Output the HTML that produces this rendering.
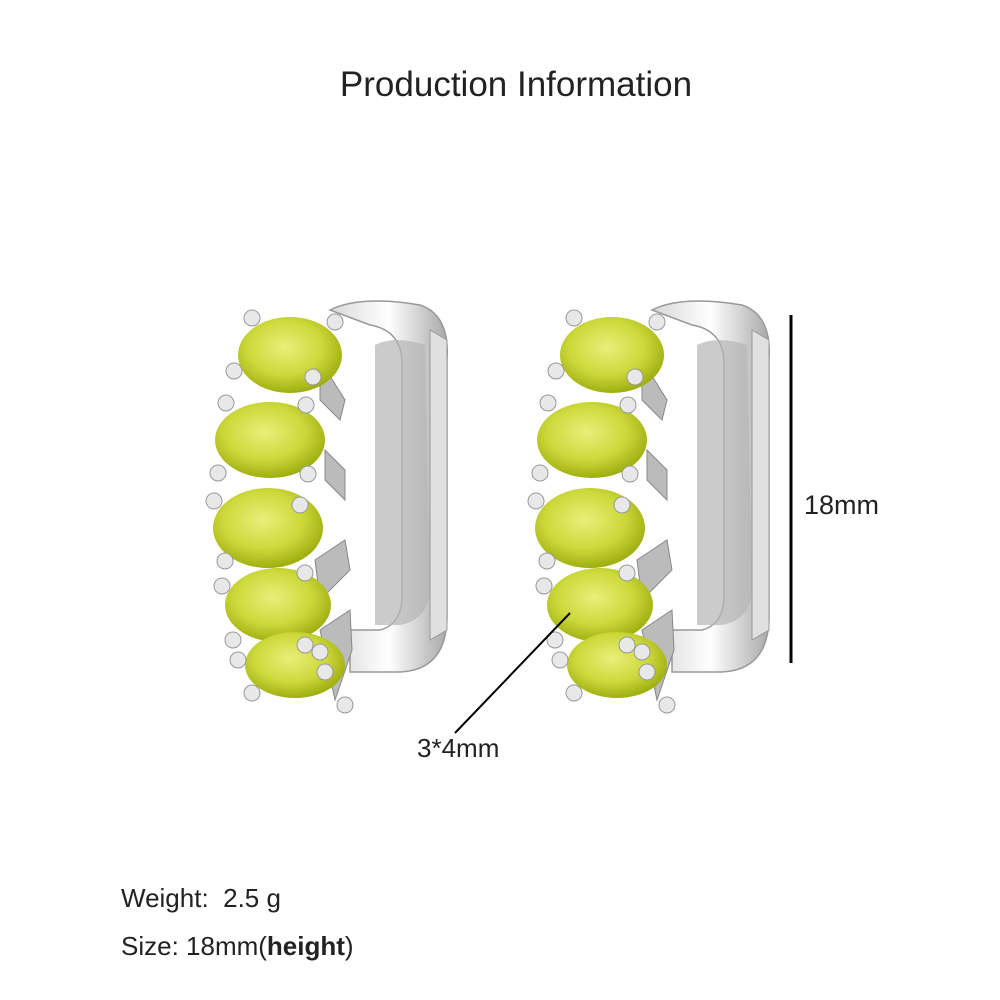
<!DOCTYPE html>
<html><head><style>
html,body{margin:0;padding:0;background:#fff;}
.w{position:relative;width:1000px;height:1000px;overflow:hidden;font-family:"Liberation Sans",sans-serif;color:#222;}
.t{position:absolute;white-space:nowrap;}
</style></head><body><div class="w">
<svg width="1000" height="1000" style="position:absolute;left:0;top:0">
<defs>
<radialGradient id="g" cx="45%" cy="40%" r="60%"><stop offset="0" stop-color="#e9ef7a"/><stop offset="0.6" stop-color="#ccd93a"/><stop offset="1" stop-color="#9fae10"/></radialGradient>
<linearGradient id="m" x1="0" x2="1"><stop offset="0" stop-color="#d8d8d8"/><stop offset="0.5" stop-color="#ffffff"/><stop offset="1" stop-color="#a8a8a8"/></linearGradient>
<g id="e">
<path d="M330 310 Q360 295 420 305 Q450 315 447 360 L447 620 Q445 670 400 672 L350 672 L350 630 L380 630 Q400 625 402 600 L402 360 Q400 330 370 325 Z" fill="url(#m)" stroke="#999" stroke-width="1.5"/>
<path d="M375 345 Q395 335 425 345 L430 590 Q428 620 400 625 L375 625 Z" fill="#b5b5b5" opacity="0.7"/>
<path d="M430 330 L447 340 L447 630 L430 640 Z" fill="#e0e0e0" stroke="#999"/>
<g fill="#bbb" stroke="#888" stroke-width="1">
<path d="M320 360 L345 400 L340 420 L320 400Z"/><path d="M325 450 L345 470 L345 500 L325 480Z"/>
<path d="M315 560 L345 540 L350 570 L320 600Z"/><path d="M320 630 L350 610 L352 650 L335 700Z"/>
</g>
<ellipse cx="290" cy="355" rx="52" ry="38" fill="url(#g)"/>
<ellipse cx="270" cy="440" rx="55" ry="38" fill="url(#g)"/>
<ellipse cx="268" cy="528" rx="55" ry="40" fill="url(#g)"/>
<ellipse cx="278" cy="605" rx="53" ry="37" fill="url(#g)"/>
<ellipse cx="295" cy="665" rx="50" ry="33" fill="url(#g)"/>
<g fill="#e8e8e8" stroke="#999" stroke-width="1">
<circle cx="252" cy="318" r="8"/><circle cx="335" cy="322" r="8"/><circle cx="234" cy="371" r="8"/><circle cx="313" cy="377" r="8"/>
<circle cx="226" cy="403" r="8"/><circle cx="306" cy="405" r="8"/><circle cx="218" cy="473" r="8"/><circle cx="308" cy="474" r="8"/>
<circle cx="214" cy="501" r="8"/><circle cx="300" cy="505" r="8"/><circle cx="225" cy="561" r="8"/><circle cx="305" cy="573" r="8"/>
<circle cx="222" cy="586" r="8"/><circle cx="305" cy="645" r="8"/><circle cx="233" cy="640" r="8"/><circle cx="238" cy="660" r="8"/>
<circle cx="320" cy="652" r="8"/><circle cx="325" cy="672" r="8"/><circle cx="252" cy="693" r="8"/><circle cx="345" cy="705" r="8"/>
</g>
</g>
</defs>
<use href="#e"/>
<use href="#e" transform="translate(322,0)"/>
<line x1="791" y1="315" x2="791" y2="663" stroke="#000" stroke-width="3"/>
<line x1="570" y1="613" x2="455" y2="733" stroke="#000" stroke-width="2"/>
</svg>
<div class="t" style="left:0;width:1032px;text-align:center;top:65px;font-size:35px">Production Information</div>
<div class="t" style="left:804px;top:490px;font-size:27px">18mm</div>
<div class="t" style="left:417px;top:733px;font-size:26px">3*4mm</div>
<div class="t" style="left:121px;top:883px;font-size:26px">Weight:&nbsp; 2.5 g</div>
<div class="t" style="left:121px;top:931px;font-size:26px">Size: 18mm(<b>height</b>)</div>
</div></body></html>
